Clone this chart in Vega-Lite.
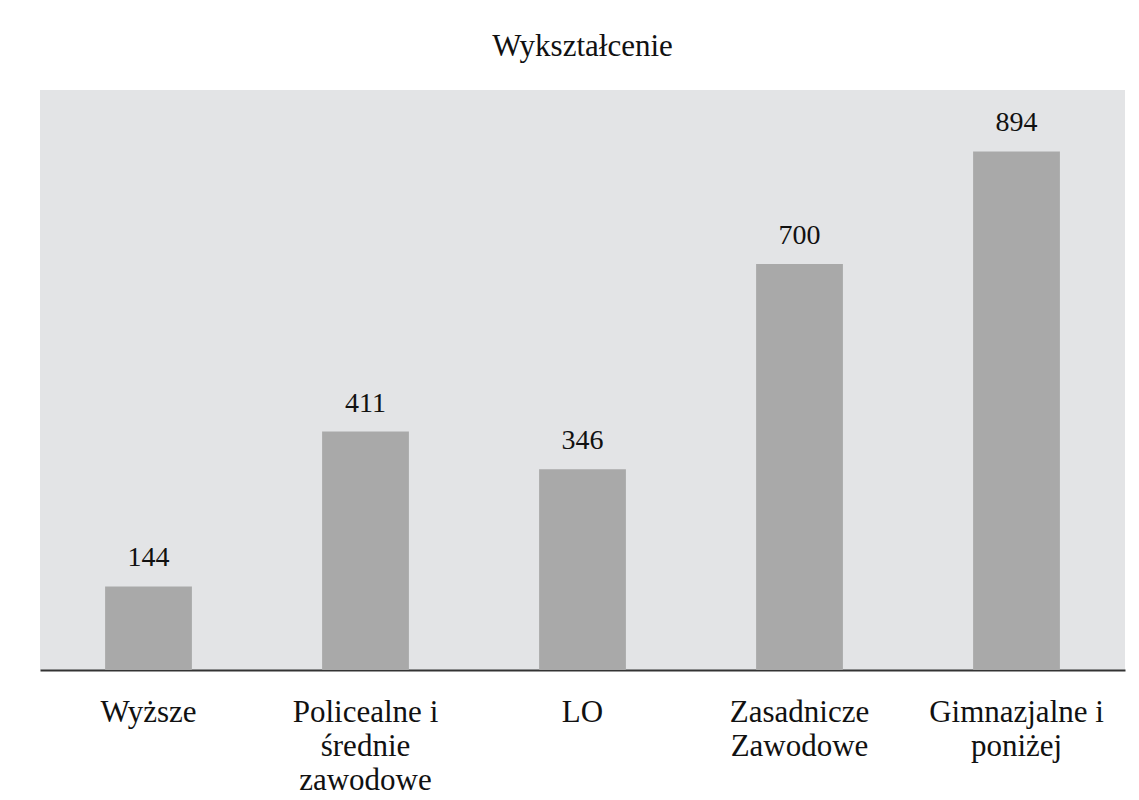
{
  "$schema": "https://vega.github.io/schema/vega-lite/v6.json",
  "autosize": "none",
  "width": 1085,
  "height": 580,
  "padding": {"left": 40, "top": 90, "right": 14, "bottom": 130},
  "background": "white",
  "title": {
    "text": "Wykształcenie",
    "font": "Liberation Serif",
    "fontSize": 31,
    "fontWeight": "normal",
    "color": "#111111",
    "offset": 27
  },
  "data": {
    "values": [
      {"kategoria": "Wyższe", "liczba": 144},
      {"kategoria": "Policealne i|średnie|zawodowe", "liczba": 411},
      {"kategoria": "LO", "liczba": 346},
      {"kategoria": "Zasadnicze|Zawodowe", "liczba": 700},
      {"kategoria": "Gimnazjalne i|poniżej", "liczba": 894}
    ]
  },
  "encoding": {
    "x": {
      "field": "kategoria",
      "type": "nominal",
      "sort": null,
      "scale": {"paddingInner": 0.6, "paddingOuter": 0.3},
      "axis": {
        "title": null,
        "labelAngle": 0,
        "labelExpr": "split(datum.label, '|')",
        "labelFont": "Liberation Serif",
        "labelFontSize": 31,
        "labelColor": "#111111",
        "labelLineHeight": 34,
        "labelPadding": 27,
        "labelBaseline": "top",
        "ticks": false,
        "domainColor": "#333333",
        "domainWidth": 2
      }
    },
    "y": {
      "field": "liczba",
      "type": "quantitative",
      "scale": {"domain": [0, 1000]},
      "axis": null
    }
  },
  "layer": [
    {"mark": {"type": "bar", "color": "#a9a9a9"}},
    {
      "mark": {
        "type": "text",
        "baseline": "bottom",
        "dy": -14,
        "font": "Liberation Serif",
        "fontSize": 28,
        "color": "#111111"
      },
      "encoding": {"text": {"field": "liczba", "type": "quantitative"}}
    }
  ],
  "config": {
    "view": {"fill": "#e3e4e6", "stroke": null}
  }
}
